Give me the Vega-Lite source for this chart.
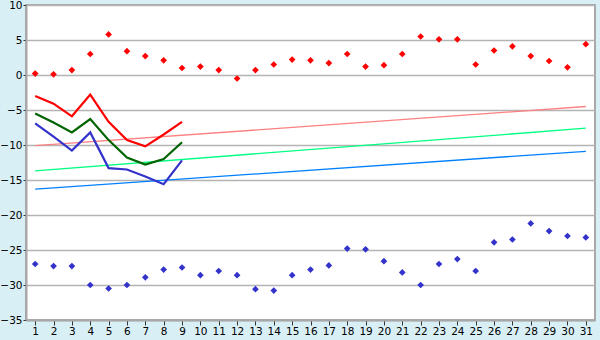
{
  "$schema": "https://vega.github.io/schema/vega-lite/v6.json",
  "width": 569,
  "height": 315,
  "autosize": {"type": "none"},
  "padding": {"left": 26, "top": 5, "right": 5, "bottom": 20},
  "background": "#D9EFF6",
  "config": {
    "view": {"fill": "white", "stroke": "#A8A8A8", "strokeWidth": 2},
    "axis": {"labelFont": "DejaVu Sans", "labelFontSize": 10.5, "labelColor": "black", "domainColor": "#A8A8A8", "domainWidth": 2, "tickColor": "#333333", "title": null}
  },
  "datasets": {
    "max": [
      {"day": 1, "v": 0.2}, {"day": 2, "v": 0.1}, {"day": 3, "v": 0.7}, {"day": 4, "v": 3.0}, {"day": 5, "v": 5.8},
      {"day": 6, "v": 3.4}, {"day": 7, "v": 2.7}, {"day": 8, "v": 2.1}, {"day": 9, "v": 1.0}, {"day": 10, "v": 1.2},
      {"day": 11, "v": 0.7}, {"day": 12, "v": -0.5}, {"day": 13, "v": 0.7}, {"day": 14, "v": 1.5}, {"day": 15, "v": 2.2},
      {"day": 16, "v": 2.1}, {"day": 17, "v": 1.7}, {"day": 18, "v": 3.0}, {"day": 19, "v": 1.2}, {"day": 20, "v": 1.4},
      {"day": 21, "v": 3.0}, {"day": 22, "v": 5.5}, {"day": 23, "v": 5.1}, {"day": 24, "v": 5.1}, {"day": 25, "v": 1.5},
      {"day": 26, "v": 3.5}, {"day": 27, "v": 4.1}, {"day": 28, "v": 2.7}, {"day": 29, "v": 2.0}, {"day": 30, "v": 1.1},
      {"day": 31, "v": 4.4}
    ],
    "min": [
      {"day": 1, "v": -27.0}, {"day": 2, "v": -27.3}, {"day": 3, "v": -27.3}, {"day": 4, "v": -30.0}, {"day": 5, "v": -30.5},
      {"day": 6, "v": -30.0}, {"day": 7, "v": -28.9}, {"day": 8, "v": -27.8}, {"day": 9, "v": -27.5}, {"day": 10, "v": -28.6},
      {"day": 11, "v": -28.0}, {"day": 12, "v": -28.6}, {"day": 13, "v": -30.6}, {"day": 14, "v": -30.8}, {"day": 15, "v": -28.6},
      {"day": 16, "v": -27.8}, {"day": 17, "v": -27.2}, {"day": 18, "v": -24.8}, {"day": 19, "v": -24.9}, {"day": 20, "v": -26.6},
      {"day": 21, "v": -28.2}, {"day": 22, "v": -30.0}, {"day": 23, "v": -27.0}, {"day": 24, "v": -26.3}, {"day": 25, "v": -28.0},
      {"day": 26, "v": -23.9}, {"day": 27, "v": -23.5}, {"day": 28, "v": -21.2}, {"day": 29, "v": -22.3}, {"day": 30, "v": -23.0},
      {"day": 31, "v": -23.2}
    ],
    "lines": [
      {"day": 1, "s": "hi", "v": -3.0}, {"day": 2, "s": "hi", "v": -4.1}, {"day": 3, "s": "hi", "v": -5.9}, {"day": 4, "s": "hi", "v": -2.8},
      {"day": 5, "s": "hi", "v": -6.7}, {"day": 6, "s": "hi", "v": -9.3}, {"day": 7, "s": "hi", "v": -10.2}, {"day": 8, "s": "hi", "v": -8.5},
      {"day": 9, "s": "hi", "v": -6.7},
      {"day": 1, "s": "mid", "v": -5.5}, {"day": 2, "s": "mid", "v": -6.8}, {"day": 3, "s": "mid", "v": -8.2}, {"day": 4, "s": "mid", "v": -6.3},
      {"day": 5, "s": "mid", "v": -9.3}, {"day": 6, "s": "mid", "v": -11.8}, {"day": 7, "s": "mid", "v": -12.8}, {"day": 8, "s": "mid", "v": -12.0},
      {"day": 9, "s": "mid", "v": -9.6},
      {"day": 1, "s": "lo", "v": -6.9}, {"day": 2, "s": "lo", "v": -8.8}, {"day": 3, "s": "lo", "v": -10.8}, {"day": 4, "s": "lo", "v": -8.2},
      {"day": 5, "s": "lo", "v": -13.3}, {"day": 6, "s": "lo", "v": -13.5}, {"day": 7, "s": "lo", "v": -14.5}, {"day": 8, "s": "lo", "v": -15.6},
      {"day": 9, "s": "lo", "v": -12.2}
    ],
    "trend": [
      {"day": 1, "s": "thi", "v": -10.1}, {"day": 31, "s": "thi", "v": -4.5},
      {"day": 1, "s": "tmid", "v": -13.7}, {"day": 31, "s": "tmid", "v": -7.6},
      {"day": 1, "s": "tlo", "v": -16.3}, {"day": 31, "s": "tlo", "v": -10.9}
    ]
  },
  "encoding": {
    "x": {"field": "day", "type": "quantitative",
      "scale": {"domain": [0.5, 31.5], "nice": false, "zero": false},
      "axis": {"values": [1,2,3,4,5,6,7,8,9,10,11,12,13,14,15,16,17,18,19,20,21,22,23,24,25,26,27,28,29,30,31],
               "grid": false, "tickSize": 5, "labelPadding": 1, "labelFlush": false, "labelOverlap": false}},
    "y": {"field": "v", "type": "quantitative",
      "scale": {"domain": [-35, 10], "nice": false, "zero": false},
      "axis": {"values": [-35,-30,-25,-20,-15,-10,-5,0,5,10], "grid": true, "gridColor": "#B4B4B4", "gridWidth": 1.5, "tickSize": 3, "labelPadding": 1, "labelFlush": false}}
  },
  "layer": [
    {
      "data": {"name": "trend"},
      "mark": {"type": "line", "strokeWidth": 1.3},
      "encoding": {
        "detail": {"field": "s"},
        "color": {"field": "s", "type": "nominal", "legend": null,
          "scale": {"domain": ["thi", "tmid", "tlo"], "range": ["#FF8080", "#00FF80", "#0080FF"]}}
      }
    },
    {
      "data": {"name": "lines"},
      "mark": {"type": "line", "strokeWidth": 2.2},
      "encoding": {
        "detail": {"field": "s"},
        "color": {"field": "s", "type": "nominal", "legend": null,
          "scale": {"domain": ["hi", "mid", "lo"], "range": ["#FF0000", "#006400", "#3333CC"]}}
      }
    },
    {
      "data": {"name": "max"},
      "mark": {"type": "point", "shape": "diamond", "filled": true, "size": 45, "color": "#FF0000", "opacity": 1}
    },
    {
      "data": {"name": "min"},
      "mark": {"type": "point", "shape": "diamond", "filled": true, "size": 45, "color": "#3333CC", "opacity": 1}
    }
  ],
  "resolve": {"scale": {"color": "independent"}}
}
